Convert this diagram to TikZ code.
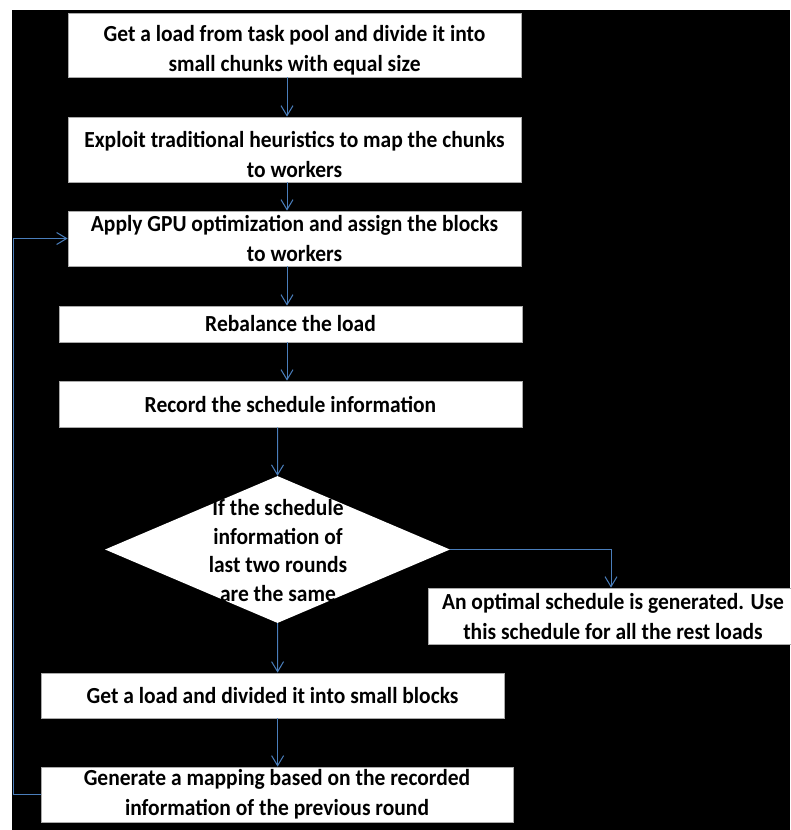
\documentclass[tikz,border=0pt]{standalone}
\usepackage{fontspec}
\setmainfont{Carlito}[FakeStretch=0.935]
\usetikzlibrary{arrows.meta,shapes.geometric}
\definecolor{flowblue}{RGB}{74,126,187}
\definecolor{boxedge}{RGB}{170,170,170}
% taller first line, to set a two-line text a little lower in its box
\newcommand{\lowerfirst}{\rule{0pt}{26pt}}
\begin{document}
\begin{tikzpicture}[x=1pt,y=-1pt,
  box/.style={draw=boxedge,line width=0.8pt,fill=white,inner sep=0pt,align=center,
    font=\bfseries\fontsize{23}{30}\selectfont},
  lbl/.style={inner sep=0pt,align=center,font=\bfseries\fontsize{23}{28.5}\selectfont},
  flow/.style={draw=flowblue,line width=1pt,-{Straight Barb[length=10pt,width=12pt,line width=1pt]}}]
  % page and black backdrop
  \useasboundingbox (0,0) rectangle (790,830);
  \fill[black] (12,10) rectangle (790,830);
  % process boxes
  \node[box,minimum width=453pt,minimum height=64pt] (b1) at (294.5,45)
    {\lowerfirst Get a load from task pool and divide it into\\small chunks with equal size};
  \node[box,minimum width=453pt,minimum height=65pt] (b2) at (294.5,149.5)
    {\lowerfirst Exploit traditional heuristics to map the chunks\\to workers};
  \node[box,minimum width=453pt,minimum height=55pt] (b3) at (294.5,238.5)
    {Apply GPU optimization and assign the blocks\\to workers};
  \node[box,minimum width=463pt,minimum height=36pt] (b4) at (290.5,324)
    {Rebalance the load};
  \node[box,minimum width=463pt,minimum height=46pt] (b5) at (290.5,404)
    {Record the schedule information};
  % decision
  \node[diamond,fill=white,inner sep=0pt,minimum width=345pt,minimum height=147pt] (d) at (277.5,549.5) {};
  \node[lbl] (dtext) at (278,550.5) {If the schedule\\information of\\last two rounds\\are the same};
  \node[box,minimum width=370pt,minimum height=56pt] (opt) at (613,616)
    {An optimal schedule is generated. Use\\this schedule for all the rest loads};
  \node[box,minimum width=463pt,minimum height=45pt] (b6) at (272.5,695.5)
    {Get a load and divided it into small blocks};
  \node[box,minimum width=472pt,minimum height=55pt] (b7) at (277,794.5)
    {Generate a mapping based on the recorded\\information of the previous round};
  % arrow columns
  \coordinate (colA) at (287,0);
  \coordinate (colB) at (277.6,0);
  \coordinate (colC) at (611,0);
  \coordinate (loopx) at (13,0);
  % connectors
  \draw[flow] (b1.south -| colA) -- (b2.north -| colA);
  \draw[flow] (b2.south -| colA) -- (b3.north -| colA);
  \draw[flow] (b3.south -| colA) -- (b4.north -| colA);
  \draw[flow] (b4.south -| colA) -- (b5.north -| colA);
  \draw[flow] (b5.south -| colB) -- (d.north);
  \draw[flow] (d.east) -- (d.east -| colC) -- (opt.north -| colC);
  \draw[flow] (d.south) -- (b6.north -| colB);
  \draw[flow] (b6.south -| colB) -- (b7.north -| colB);
  \draw[flow] (b7.west) -- (b7.west -| loopx) -- (b3.west -| loopx) -- (b3.west);
\end{tikzpicture}
\end{document}
